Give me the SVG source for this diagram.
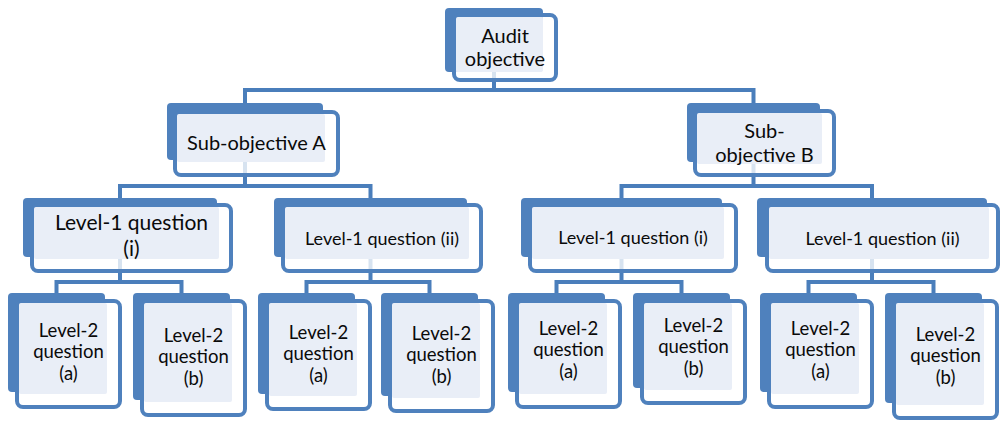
<svg xmlns="http://www.w3.org/2000/svg" width="1005" height="423" viewBox="0 0 1005 423">
  <style>
    .back { fill: #4F81BD; }
    .frame { fill: #FFFFFF; fill-opacity: 0.78; stroke: #4F81BD; stroke-width: 4; }
    .tint { fill: #E9EEF7; }
    .link { fill: none; stroke: #4A7EBB; stroke-width: 4; stroke-linejoin: miter; }
    text { font-family: Lato, "Liberation Sans", sans-serif; fill: #0A0A0A; text-anchor: middle; }
    .t20 { font-size: 20px; }
    .t21 { font-size: 21px; }
    .t18 { font-size: 18px; }
    .t185 { font-size: 18.5px; }
  </style>

  <!-- connectors sit underneath the boxes -->
  <g id="connectors">
    <path class="link" d="M494,60 V90 M245,105 V90 H753.5 V105"/>
    <path class="link" d="M245,150 V186 M120,200 V186 H370.5 V200"/>
    <path class="link" d="M753.5,150 V186 M621.5,200 V186 H872 V200"/>
    <path class="link" d="M120,250 V282 M56.5,295 V282 H181.5 V295"/>
    <path class="link" d="M370.5,250 V282 M306.5,295 V282 H429.5 V295"/>
    <path class="link" d="M621.5,250 V282 M556.5,295 V282 H681.5 V295"/>
    <path class="link" d="M872,250 V282 M808.5,295 V282 H933.5 V295"/>
  </g>

  <!-- top level -->
  <g id="audit-objective">
    <rect class="back" x="445" y="8" width="98" height="64" rx="4"/>
    <rect class="frame" x="454" y="15" width="102" height="65" rx="6"/>
    <rect class="tint" x="456" y="17" width="87" height="55" rx="2"/>
    <text class="t20" x="505" y="43">Audit</text>
    <text class="t20" x="505" y="66">objective</text>
  </g>

  <!-- sub-objectives -->
  <g id="sub-objective-a">
    <rect class="back" x="167" y="103" width="156" height="57" rx="4"/>
    <rect class="frame" x="175" y="112" width="163" height="63" rx="6"/>
    <rect class="tint" x="177" y="114" width="148" height="48" rx="2"/>
    <text class="t20" x="256.5" y="150">Sub-objective A</text>
  </g>

  <g id="sub-objective-b">
    <rect class="back" x="687" y="103" width="133" height="59" rx="4"/>
    <rect class="frame" x="695" y="111" width="139" height="64" rx="6"/>
    <rect class="tint" x="697" y="113" width="125" height="51" rx="2"/>
    <text class="t20" x="764.5" y="138">Sub-</text>
    <text class="t20" x="764.5" y="162">objective B</text>
  </g>

  <!-- level-1 questions -->
  <g id="a-level1-i">
    <rect class="back" x="23" y="198" width="194" height="59" rx="4"/>
    <rect class="frame" x="32" y="205" width="199" height="66" rx="6"/>
    <rect class="tint" x="34" y="207" width="185" height="52" rx="2"/>
    <text class="t21" x="131.5" y="230">Level-1 question</text>
    <text class="t21" x="131.5" y="256">(i)</text>
  </g>

  <g id="a-level1-ii">
    <rect class="back" x="274" y="198" width="193" height="59" rx="4"/>
    <rect class="frame" x="283" y="205" width="198" height="66" rx="6"/>
    <rect class="tint" x="285" y="207" width="184" height="52" rx="2"/>
    <text class="t18" x="382" y="245">Level-1 question (ii)</text>
  </g>

  <g id="b-level1-i">
    <rect class="back" x="521" y="198" width="201" height="59" rx="4"/>
    <rect class="frame" x="530" y="205" width="206" height="66" rx="6"/>
    <rect class="tint" x="532" y="207" width="192" height="52" rx="2"/>
    <text class="t18" x="633" y="244">Level-1 question (i)</text>
  </g>

  <g id="b-level1-ii">
    <rect class="back" x="757" y="198" width="230" height="59" rx="4"/>
    <rect class="frame" x="767" y="205" width="231" height="66" rx="6"/>
    <rect class="tint" x="769" y="207" width="220" height="52" rx="2"/>
    <text class="t18" x="882.5" y="245">Level-1 question (ii)</text>
  </g>

  <!-- level-2 questions -->
  <g id="a-i-level2-a">
    <rect class="back" x="8" y="293" width="97" height="99" rx="4"/>
    <rect class="frame" x="17" y="301" width="103" height="106" rx="6"/>
    <rect class="tint" x="19" y="303" width="88" height="91" rx="2"/>
    <text class="t185" x="68.5" y="337">Level-2</text>
    <text class="t185" x="68.5" y="358">question</text>
    <text class="t185" x="68.5" y="380">(a)</text>
  </g>

  <g id="a-i-level2-b">
    <rect class="back" x="133" y="293" width="97" height="107" rx="4"/>
    <rect class="frame" x="142" y="301" width="103" height="114" rx="6"/>
    <rect class="tint" x="144" y="303" width="88" height="99" rx="2"/>
    <text class="t185" x="193.5" y="342">Level-2</text>
    <text class="t185" x="193.5" y="363">question</text>
    <text class="t185" x="193.5" y="385">(b)</text>
  </g>

  <g id="a-ii-level2-a">
    <rect class="back" x="258" y="293" width="97" height="101" rx="4"/>
    <rect class="frame" x="267" y="301" width="103" height="108" rx="6"/>
    <rect class="tint" x="269" y="303" width="88" height="93" rx="2"/>
    <text class="t185" x="318.5" y="339">Level-2</text>
    <text class="t185" x="318.5" y="360">question</text>
    <text class="t185" x="318.5" y="382">(a)</text>
  </g>

  <g id="a-ii-level2-b">
    <rect class="back" x="381" y="293" width="97" height="103" rx="4"/>
    <rect class="frame" x="390" y="301" width="103" height="110" rx="6"/>
    <rect class="tint" x="392" y="303" width="88" height="95" rx="2"/>
    <text class="t185" x="441.5" y="340">Level-2</text>
    <text class="t185" x="441.5" y="361">question</text>
    <text class="t185" x="441.5" y="383">(b)</text>
  </g>

  <g id="b-i-level2-a">
    <rect class="back" x="508" y="293" width="97" height="99" rx="4"/>
    <rect class="frame" x="517" y="301" width="103" height="106" rx="6"/>
    <rect class="tint" x="519" y="303" width="88" height="91" rx="2"/>
    <text class="t185" x="568.5" y="335">Level-2</text>
    <text class="t185" x="568.5" y="356">question</text>
    <text class="t185" x="568.5" y="378">(a)</text>
  </g>

  <g id="b-i-level2-b">
    <rect class="back" x="633" y="293" width="97" height="95" rx="4"/>
    <rect class="frame" x="642" y="301" width="103" height="102" rx="6"/>
    <rect class="tint" x="644" y="303" width="88" height="87" rx="2"/>
    <text class="t185" x="693.5" y="332">Level-2</text>
    <text class="t185" x="693.5" y="353">question</text>
    <text class="t185" x="693.5" y="375">(b)</text>
  </g>

  <g id="b-ii-level2-a">
    <rect class="back" x="760" y="293" width="97" height="99" rx="4"/>
    <rect class="frame" x="769" y="301" width="103" height="106" rx="6"/>
    <rect class="tint" x="771" y="303" width="88" height="91" rx="2"/>
    <text class="t185" x="820.5" y="335">Level-2</text>
    <text class="t185" x="820.5" y="356">question</text>
    <text class="t185" x="820.5" y="378">(a)</text>
  </g>

  <g id="b-ii-level2-b">
    <rect class="back" x="885" y="293" width="97" height="110" rx="4"/>
    <rect class="frame" x="894" y="301" width="103" height="117" rx="6"/>
    <rect class="tint" x="896" y="303" width="88" height="102" rx="2"/>
    <text class="t185" x="945.5" y="341">Level-2</text>
    <text class="t185" x="945.5" y="362">question</text>
    <text class="t185" x="945.5" y="384">(b)</text>
  </g>
</svg>
